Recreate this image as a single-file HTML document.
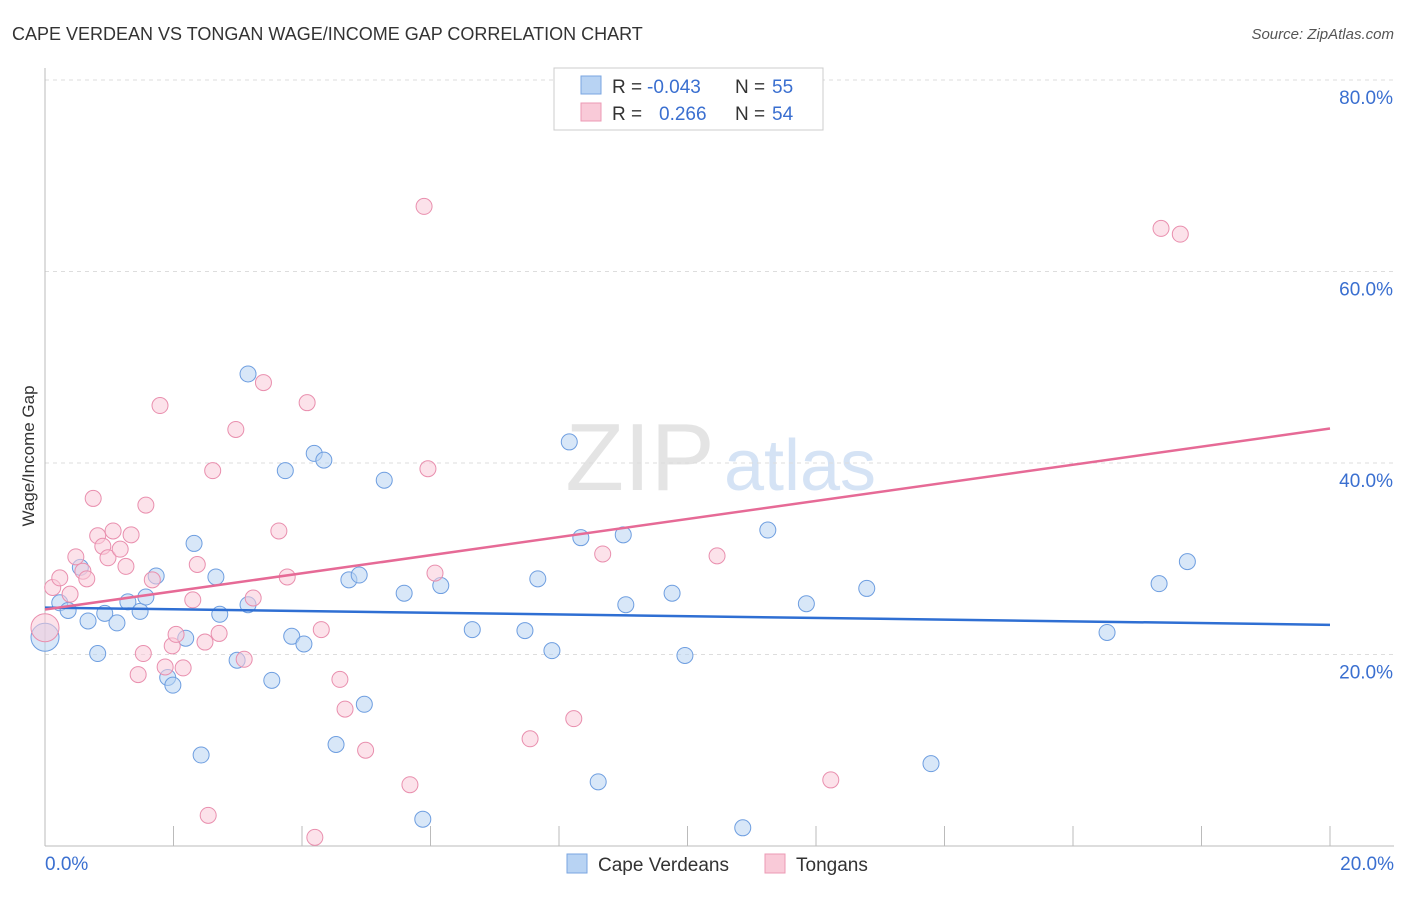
<!DOCTYPE html>
<html><head><meta charset="utf-8"><style>
body{margin:0;background:#fff;font-family:"Liberation Sans",sans-serif;}
svg text{font-family:"Liberation Sans",sans-serif;}
</style></head><body>
<svg width="1406" height="892" xmlns="http://www.w3.org/2000/svg">
<text x="12" y="40" font-size="18" fill="#333">CAPE VERDEAN VS TONGAN WAGE/INCOME GAP CORRELATION CHART</text>
<text x="1394" y="39" font-size="15" fill="#555" font-style="italic" text-anchor="end">Source: ZipAtlas.com</text>
<text x="640" y="490" font-size="96" fill="#e4e4e4" font-family="Liberation Serif" text-anchor="middle">ZIP</text>
<text x="800" y="490" font-size="72" fill="#d5e3f5" text-anchor="middle">atlas</text>
<g id="grid"></g><g id="axes"></g><g id="pts"></g><g id="lines"></g>
<text transform="translate(34,456) rotate(-90)" font-size="17" fill="#333" text-anchor="middle">Wage/Income Gap</text>
<g>
<rect x="554" y="68" width="269" height="62" fill="#fff" stroke="#ccc"/>
<rect x="581" y="76" width="20" height="18" fill="#b8d3f3" stroke="#7aa6e0"/>
<rect x="581" y="103" width="20" height="18" fill="#f9cad8" stroke="#ec9ab4"/>
<text x="612" y="93" font-size="19" fill="#333">R =</text>
<text x="647" y="93" font-size="19" fill="#3a6fd0">-0.043</text>
<text x="735" y="93" font-size="19" fill="#333">N =</text>
<text x="772" y="93" font-size="19" fill="#3a6fd0">55</text>
<text x="612" y="120" font-size="19" fill="#333">R =</text>
<text x="659" y="120" font-size="19" fill="#3a6fd0">0.266</text>
<text x="735" y="120" font-size="19" fill="#333">N =</text>
<text x="772" y="120" font-size="19" fill="#3a6fd0">54</text>
</g>
<g>
<rect x="567" y="854" width="20" height="19" fill="#b8d3f3" stroke="#7aa6e0"/>
<text x="598" y="871" font-size="19" fill="#333">Cape Verdeans</text>
<rect x="765" y="854" width="20" height="19" fill="#f9cad8" stroke="#ec9ab4"/>
<text x="796" y="871" font-size="19" fill="#333">Tongans</text>
</g>
</svg>
<script>
const xTicks=[0,2,4,6,8,10,12,14,16,18,20];
const yTicks=[20,40,60,80];
const blueX=[0,0.23,0.36,0.67,0.82,0.93,1.12,1.29,1.48,1.57,1.73,1.91,1.99,2.19,2.32,2.43,2.66,2.72,2.99,3.16,3.16,3.53,3.74,3.84,4.03,4.19,4.34,4.53,4.73,4.89,4.97,5.28,5.59,5.88,6.16,6.65,7.47,7.67,7.89,8.16,8.34,8.61,9.0,9.04,9.76,9.96,10.86,11.25,11.85,12.79,13.79,16.53,17.34,17.78,0.55];
const blueY=[21.8,25.4,24.6,23.5,20.1,24.3,23.3,25.5,24.5,26.0,28.2,17.6,16.8,21.7,31.6,9.5,28.1,24.2,19.4,49.3,25.2,17.3,39.2,21.9,21.1,41.0,40.3,10.6,27.8,28.3,14.8,38.2,26.4,2.8,27.2,22.6,22.5,27.9,20.4,42.2,32.2,6.7,32.5,25.2,26.4,19.9,1.9,33.0,25.3,26.9,8.6,22.3,27.4,29.7,29.1];
const pinkX=[0,0.12,0.23,0.39,0.48,0.59,0.65,0.75,0.82,0.9,0.98,1.06,1.17,1.26,1.34,1.45,1.53,1.57,1.67,1.79,1.87,1.98,2.04,2.15,2.30,2.37,2.49,2.54,2.61,2.71,2.97,3.10,3.24,3.40,3.64,3.77,4.08,4.20,4.30,4.59,4.67,4.99,5.68,5.90,5.96,6.07,7.55,8.23,8.68,10.46,12.23,17.37,17.67];
const pinkY=[22.8,27.0,28.0,26.3,30.2,28.7,27.9,36.3,32.4,31.3,30.1,32.9,31.0,29.2,32.5,17.9,20.1,35.6,27.8,46.0,18.7,20.9,22.1,18.6,25.7,29.4,21.3,3.2,39.2,22.2,43.5,19.5,25.9,48.4,32.9,28.1,46.3,0.9,22.6,17.4,14.3,10.0,6.4,66.8,39.4,28.5,11.2,13.3,30.5,30.3,6.9,64.5,63.9];
const blueLine=[24.9,23.1];
const pinkLine=[24.7,43.6];
const X=v=>45+v/20*1285, Y=v=>846-v*9.575;
const NS="http://www.w3.org/2000/svg";
function mk(t,a,p){const e=document.createElementNS(NS,t);for(const k in a)e.setAttribute(k,a[k]);document.getElementById(p).appendChild(e);return e;}
let e;
yTicks.forEach(v=>{
 e=mk('line',{x1:45,x2:1394,y1:Y(v),y2:Y(v),stroke:'#ddd','stroke-dasharray':'4,4'},'grid');
 
 
 e=mk('text',{x:1393,y:Y(v)+24,'font-size':19,fill:'#3a6fd0','text-anchor':'end'},'axes');e.textContent=v.toFixed(1)+'%';
 
 
});
e=mk('line',{x1:45,x2:45,y1:68,y2:846,stroke:'#bbb'},'axes');


e=mk('line',{x1:45,x2:1394,y1:846,y2:846,stroke:'#bbb'},'axes');


xTicks.forEach(v=>{
 e=mk('line',{x1:X(v),x2:X(v),y1:826,y2:846,stroke:'#bbb'},'axes');
 
 
});
[[0,'0.0%',45,'start'],[20,'20.0%',1394,'end']].forEach(a=>{
 e=mk('text',{x:a[2],y:870,'font-size':19,fill:'#3a6fd0','text-anchor':a[3]},'axes');e.textContent=a[1];
 
 
});
function pts(xs,ys,fill,stroke,name){xs.forEach((x,i)=>{
 e=mk('circle',{cx:X(x),cy:Y(ys[i]),r:i==0?14:8,fill:fill,'fill-opacity':0.55,stroke:stroke,'stroke-width':1},'pts');
 
 
});}
pts(blueX,blueY,'#b8d3f3','#6e9ee0','cape-verdean-point');
pts(pinkX,pinkY,'#f9cad8','#e98fae','tongan-point');
e=mk('line',{x1:X(0),x2:X(20),y1:Y(blueLine[0]),y2:Y(blueLine[1]),stroke:'#2f6fd3','stroke-width':2.5},'lines');


e=mk('line',{x1:X(0),x2:X(20),y1:Y(pinkLine[0]),y2:Y(pinkLine[1]),stroke:'#e66a96','stroke-width':2.5},'lines');


</script>
</body></html>
